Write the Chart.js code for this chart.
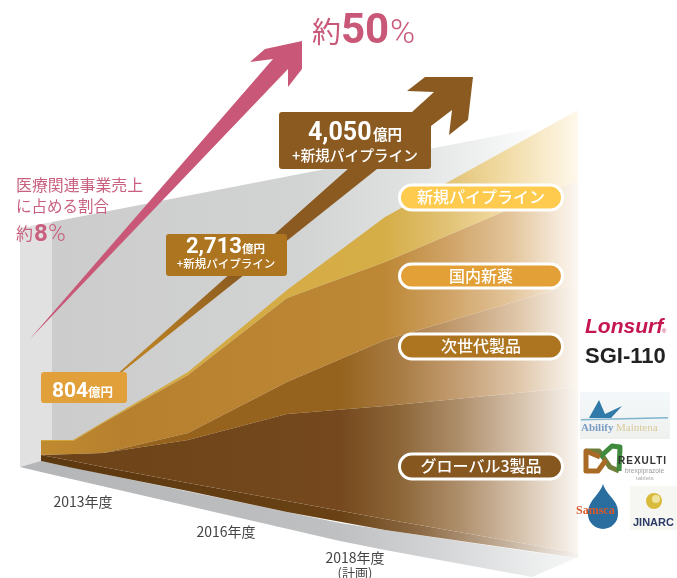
<!DOCTYPE html>
<html lang="ja">
<head>
<meta charset="utf-8">
<title>医療関連事業売上</title>
<style>html,body{margin:0;padding:0;background:#fff}canvas{display:block}</style>
<script src="https://cdn.jsdelivr.net/npm/chart.js@4"></script>
</head>
<body>
<canvas id="c" width="677" height="578"></canvas>
<script>
// Layer outlines (y scale runs downward with the picture)
const xStack     = [41, 73, 103, 188, 287, 385, 578];
const newPipeline= [440, 440, 422, 372, 290, 217, 110];
const domestic   = [441, 441, 423, 375, 298, 262, 180];
const nextGen    = [455, 454, 453, 433, 382, 340, 283];
const global3    = [455, 454, 453, 440, 414, 406, 387];
const frontTop   = [455, 461, 467, 483, 501, 519, 553];
const frontLow   = [461, 468, 474, 491, 512, 530, 558];

const xFloor     = [20, 41, 340, 385, 532, 578];
const floorTop   = [467, 461, 523, 530, 552, 558];
const floorLow   = [467, 472, 541, 550, 577, 557];

const xWall      = [52, 532];
const wallTop    = [222, 129];
const xPanel     = [20, 52];
const panelTop   = [228, 222];
const panelLow   = [467, 459];

const categories = ['2013年度', '2016年度', '2018年度'];
const categoryNote = '(計画)';
const amounts    = ['804', '2,713', '4,050'];
const shareLabels= ['8', '50'];
const pillLabels = ['新規パイプライン', '国内新薬', '次世代製品', 'グローバル3製品'];
const pipelineNote = '+新規パイプライン';

const pinkArrow  = [[29,340],[273,59],[250,62],[265,49],[302,41],[302,69],[288,87],[288,69]];
const brownArrow = [[97,392],[412,112],[434,92],[407,91],[425,77],[473,77],[468,120],[449,135],[452,110],[431,126]];

const canvas = document.getElementById('c');
const ctx2d = canvas.getContext('2d');
const JP = '"Noto Sans CJK JP","Noto Sans",sans-serif';
const NUM = 'Roboto,"Liberation Sans",sans-serif';
const hGrad = stops => {
  const a = stops[0][0], b = stops[stops.length - 1][0];
  const g = ctx2d.createLinearGradient(a, 0, b, 0);
  stops.forEach(s => g.addColorStop((s[0] - a) / (b - a), s[1]));
  return g;
};
const pts = (xs, ys) => xs.map((x, i) => ({x, y: ys[i]}));
const layer = (xs, ys, fill, bg) => ({data: pts(xs, ys), fill, backgroundColor: bg || 'transparent', borderWidth: 0, pointRadius: 0, tension: 0});

const fills = {
  yellow: hGrad([[41,'#d2a63e'],[385,'#d6ae48'],[440,'#e0c070'],[500,'#f0d9a0'],[578,'#fff9ec']]),
  tan:    hGrad([[41,'#c08a30'],[120,'#b7802e'],[385,'#bd8836'],[450,'#d0a468'],[510,'#e3c49a'],[578,'#fcf8f3']]),
  mid:    hGrad([[41,'#96621c'],[340,'#96631e'],[400,'#a87c44'],[460,'#c49e74'],[520,'#e0c8ac'],[578,'#fbf7f2']]),
  dark:   hGrad([[41,'#6c4218'],[340,'#75491d'],[400,'#8d6638'],[460,'#ae8f6c'],[520,'#d6c2ac'],[578,'#faf6f1']]),
  front:  hGrad([[41,'#5c3810'],[340,'#694114'],[420,'#8d6a45'],[500,'#c0ab95'],[578,'#f6f2ee']]),
  floor:  hGrad([[20,'#b4b5b7'],[340,'#bfc0c2'],[450,'#d6d7d8'],[578,'#f6f7f7']]),
  wall:   hGrad([[52,'#cccccc'],[300,'#d2d3d3'],[400,'#dfe1e1'],[480,'#eff0f0'],[540,'#fdfdfd']]),
  panel:  '#e1e1e1'
};

const decor = {
  id: 'decor',
  afterDatasetsDraw(chart) {
    const c = chart.ctx, X = v => chart.scales.x.getPixelForValue(v), Y = v => chart.scales.y.getPixelForValue(v);
    const poly = (p, f) => { c.beginPath(); p.forEach((q, i) => i ? c.lineTo(X(q[0]), Y(q[1])) : c.moveTo(X(q[0]), Y(q[1]))); c.closePath(); c.fillStyle = f; c.fill(); };
    const txt = (s, x, y, font, color, align) => { c.font = font; c.fillStyle = color; c.textAlign = align || 'left'; c.textBaseline = 'alphabetic'; c.fillText(s, X(x), Y(y)); };
    const box = (x0, y0, x1, y1, r, f) => { c.beginPath(); c.roundRect(X(x0), Y(y0), x1 - x0, y1 - y0, r); c.fillStyle = f; c.fill(); };
    c.save();

    // arrows
    poly(pinkArrow, '#c95878');
    const bg = c.createLinearGradient(X(150), Y(345), X(235), Y(265));
    bg.addColorStop(0, '#b87f24'); bg.addColorStop(1, '#8a5a20');
    poly(brownArrow, bg);

    // amount boxes
    box(41, 372, 127, 403, 3, '#e2a03a');
    txt(amounts[0], 52, 397, 'bold 21px ' + NUM, '#fff');
    txt('億円', 88, 397, 'bold 12.5px ' + JP, '#fff');

    box(166, 234, 287, 276, 3, '#ae7520');
    txt(amounts[1], 186, 253, 'bold 22px ' + NUM, '#fff');
    txt('億円', 242, 253, 'bold 11.5px ' + JP, '#fff');
    txt(pipelineNote, 226, 268, '500 11.5px ' + JP, '#fff', 'center');

    box(279, 112, 431, 169, 3, '#8a5a20');
    txt(amounts[2], 308, 140, 'bold 25px ' + NUM, '#fff');
    txt('億円', 373, 140, 'bold 14.5px ' + JP, '#fff');
    txt(pipelineNote, 355, 161, '500 14.7px ' + JP, '#fff', 'center');

    // pills
    [[184, 211, '#fecb4e'], [263, 289, '#e2a037'], [333, 360, '#ae7520'], [453, 480, '#875720']].forEach((p, i) => {
      c.beginPath(); c.roundRect(X(399.5), Y(p[0] + 1), 163, p[1] - p[0] - 2, (p[1] - p[0]) / 2);
      c.fillStyle = p[2]; c.fill(); c.lineWidth = 3; c.strokeStyle = '#fff'; c.stroke();
      txt(pillLabels[i], 481, p[0] + (p[1] - p[0]) / 2 + 5.5, '500 16px ' + JP, '#fff', 'center');
    });

    // share labels
    const pink = '#c95878', pink2 = '#c9607f';
    txt('約', 312, 43, '400 29px ' + JP, pink);
    txt(shareLabels[1], 341, 43, 'bold 42px ' + NUM, pink);
    txt('%', 390, 43, '300 34px ' + NUM, pink);
    txt('医療関連事業売上', 16, 191, '400 15.9px ' + JP, pink2);
    txt('に占める割合', 16, 212, '400 15.5px ' + JP, pink2);
    txt('約', 16, 240, '400 17px ' + JP, pink2);
    txt(shareLabels[0], 34, 241, 'bold 24px ' + NUM, pink2);
    txt('%', 48, 241, '300 24px ' + NUM, pink2);

    // year labels
    const gray = '#444';
    txt(categories[0], 83, 507, '14px ' + JP, gray, 'center');
    txt(categories[1], 226, 537, '14px ' + JP, gray, 'center');
    txt(categories[2], 355, 563, '14px ' + JP, gray, 'center');
    txt(categoryNote, 355, 578, '13px ' + JP, gray, 'center');

    // product names
    txt('Lonsurf', 585, 333, 'italic bold 21px "Liberation Sans",sans-serif', '#c5164f');
    txt('®', 662, 333, '6px "Liberation Sans",sans-serif', '#c5164f');
    txt('SGI-110', 585, 363, 'bold 22px "Liberation Sans",sans-serif', '#222');

    // Abilify Maintena mark
    const pale = c.createLinearGradient(0, Y(392), 0, Y(439));
    pale.addColorStop(0, '#f4f8fa'); pale.addColorStop(1, '#eef1ee');
    c.fillStyle = pale; c.fillRect(X(580), Y(392), 90, 47);
    poly([[589,418],[599,400],[605,414],[622,406],[611,418]], '#2f7aa8');
    poly([[581,419],[668,417],[668,418.5],[581,420.5]], '#7fb4cf');
    txt('Abilify', 581, 431, 'bold 11px "Liberation Serif",serif', '#7a9cc4');
    txt('Maintena', 616, 431, '11px "Liberation Serif",serif', '#d9c99a');

    // Rexulti mark
    c.lineWidth = 5; c.lineJoin = 'round';
    c.strokeStyle = '#6f7f3a';
    c.beginPath(); c.moveTo(X(586), Y(451)); c.lineTo(X(599), Y(451)); c.lineTo(X(610), Y(467)); c.lineTo(X(619), Y(471)); c.stroke();
    c.strokeStyle = '#3f8a3c';
    c.beginPath(); c.moveTo(X(619), Y(471)); c.lineTo(X(620), Y(447)); c.lineTo(X(612), Y(446)); c.lineTo(X(600), Y(457)); c.stroke();
    c.strokeStyle = '#a86a24';
    c.beginPath(); c.moveTo(X(600), Y(457)); c.lineTo(X(586), Y(451)); c.lineTo(X(586), Y(471)); c.lineTo(X(598), Y(471)); c.lineTo(X(606), Y(460)); c.stroke();
    c.letterSpacing = '1px';
    txt('REXULTI', 618, 464, 'bold 10px "Liberation Sans",sans-serif', '#333');
    c.letterSpacing = '0px';
    txt('brexpiprazole', 625, 473, '6.5px "Liberation Sans",sans-serif', '#9a9a9a');
    txt('tablets', 636, 480, '6px "Liberation Sans",sans-serif', '#aaa');

    // Samsca mark
    c.fillStyle = '#2a6ea0';
    c.beginPath(); c.moveTo(X(603), Y(484)); c.bezierCurveTo(X(607), Y(496), X(618), Y(500), X(618), Y(512));
    c.arc(X(603), Y(514), 15, 0, Math.PI); c.bezierCurveTo(X(588), Y(500), X(599), Y(496), X(603), Y(484)); c.fill();
    txt('Samsca', 576, 514, 'bold 12px "Liberation Serif",serif', '#d9582a');

    // Jinarc mark
    c.fillStyle = '#f6f6f2'; c.fillRect(X(630), Y(486), 47, 44);
    c.fillStyle = '#d9bb3c'; c.beginPath(); c.arc(X(654), Y(501), 8, 0, Math.PI * 2); c.fill();
    c.fillStyle = '#efe3a0'; c.beginPath(); c.arc(X(656), Y(499), 4, 0, Math.PI * 2); c.fill();
    txt('JINARC', 633, 526, 'bold 11px "Liberation Sans",sans-serif', '#2c3a66');

    c.restore();
  }
};

new Chart(canvas, {
  type: 'line',
  data: {
    datasets: [
      layer(xStack, newPipeline, '+1', fills.yellow),
      layer(xStack, domestic, '+1', fills.tan),
      layer(xStack, nextGen, '+1', fills.mid),
      layer(xStack, global3, '+1', fills.dark),
      layer(xStack, frontTop, '+1', fills.front),
      layer(xStack, frontLow, false),
      layer(xFloor, floorTop, '+1', fills.floor),
      layer(xFloor, floorLow, false),
      layer(xWall, wallTop, {value: 456}, fills.wall),
      layer(xPanel, panelTop, '+1', fills.panel),
      layer(xPanel, panelLow, false)
    ]
  },
  options: {
    responsive: false,
    animation: false,
    devicePixelRatio: 1,
    layout: {padding: 0},
    plugins: {legend: {display: false}, tooltip: {enabled: false}, title: {display: false}},
    scales: {
      x: {type: 'linear', min: 0, max: 677, display: false},
      y: {type: 'linear', min: 0, max: 578, reverse: true, display: false}
    }
  },
  plugins: [decor]
});
</script>
</body>
</html>
